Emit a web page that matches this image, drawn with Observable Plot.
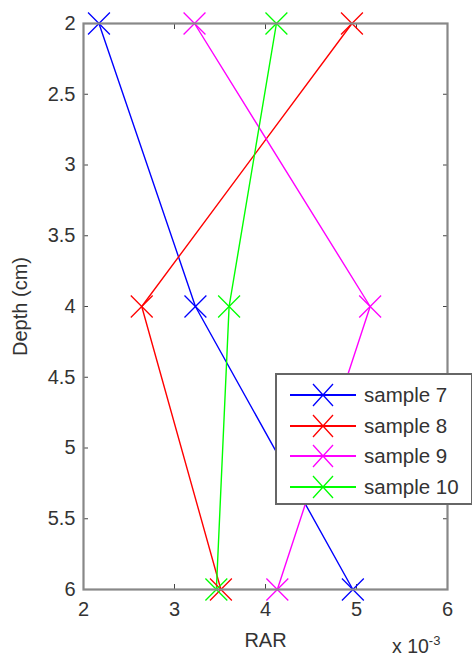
<!DOCTYPE html>
<html><head><meta charset="utf-8">
<script src="https://cdn.jsdelivr.net/npm/d3@7"></script>
<script src="https://cdn.jsdelivr.net/npm/@observablehq/plot@0.6"></script>
<style>
body{margin:0;background:#fff;font-family:"Liberation Sans",Arial,sans-serif;}
#wrap{position:relative;width:472px;height:664px;overflow:hidden;}
#legend{position:absolute;left:275px;top:373px;width:194px;height:128px;border:2px solid #666;background:#fff;}
.row{position:absolute;left:0;height:24px;}
.row svg{position:absolute;left:13px;top:0;}
.row span{position:absolute;left:87px;top:0px;line-height:24px;font-size:20.5px;color:#333;white-space:nowrap;}
#expo{position:absolute;left:392px;top:636px;font-size:19.5px;color:#333;line-height:20px;}
#expo sup{font-size:13px;position:relative;top:-5px;vertical-align:top;}
</style></head><body><div id="wrap"></div>
<script>
const depths = [2, 4, 6];
const sample7 = [2.17e-3, 3.23e-3, 4.96e-3];
const sample8 = [4.95e-3, 2.64e-3, 3.51e-3];
const sample9 = [3.22e-3, 5.15e-3, 4.13e-3];
const sample10 = [4.12e-3, 3.60e-3, 3.46e-3];
const seriesNames = ["sample 7", "sample 8", "sample 9", "sample 10"];
const seriesColors = ["#0000ff", "#ff0000", "#ff00ff", "#00ff00"];
const xTicks = [0.002, 0.003, 0.004, 0.005, 0.006];
const yTicks = [2, 2.5, 3, 3.5, 4, 4.5, 5, 5.5, 6];

const allSeries = [sample7, sample8, sample9, sample10];
const data = [];
allSeries.forEach((vals, i) => vals.forEach((v, j) => data.push({series: seriesNames[i], rar: v, depth: depths[j]})));

const fmtX = d => String(Math.round(d * 1000));
const fmtY = d => String(d);

const plot = Plot.plot({
  width: 472, height: 664,
  marginLeft: 83, marginRight: 25, marginTop: 23, marginBottom: 75,
  style: {fontFamily: "'Liberation Sans', Arial, sans-serif", fontSize: "20px", color: "#333", background: "white"},
  x: {domain: [0.002, 0.006], labelArrow: "none"},
  y: {domain: [2, 6], reverse: true, labelArrow: "none"},
  color: {domain: seriesNames, range: seriesColors},
  marks: [
    Plot.axisX(xTicks, {anchor: "bottom", tickSize: -5, tickPadding: 17, tickFormat: fmtX, label: "RAR", labelArrow: "none", labelAnchor: "center", labelOffset: 57, stroke: "#444"}),
    Plot.axisX(xTicks, {anchor: "top", tickSize: -5, tickFormat: () => "", label: null, stroke: "#444"}),
    Plot.axisY(yTicks, {anchor: "left", tickSize: -5, tickPadding: 13, tickFormat: fmtY, label: "Depth (cm)", labelArrow: "none", labelAnchor: "center", labelOffset: 71, stroke: "#444"}),
    Plot.axisY(yTicks, {anchor: "right", tickSize: -5, tickFormat: () => "", label: null, stroke: "#444"}),
    Plot.line(data, {x: "rar", y: "depth", z: "series", stroke: "series", strokeWidth: 1.4}),
    Plot.dot(data, {x: "rar", y: "depth", stroke: "series", symbol: "times", r: 10, strokeWidth: 1.3}),
    Plot.frame({stroke: "#888", strokeWidth: 2.2})
  ]
});
const wrap = document.getElementById("wrap");
wrap.appendChild(plot);

const legend = document.createElement("div");
legend.id = "legend";
seriesNames.forEach((name, i) => {
  const row = document.createElement("div");
  row.className = "row";
  row.style.top = (8 + i * 30.7) + "px";
  row.innerHTML = `<svg width="68" height="24"><line x1="0" y1="12" x2="66" y2="12" stroke="${seriesColors[i]}" stroke-width="2"/>` +
    `<path d="M23,1L43,23M23,23L43,1" stroke="${seriesColors[i]}" stroke-width="1.3"/></svg><span>${name}</span>`;
  legend.appendChild(row);
});
wrap.appendChild(legend);

const expo = document.createElement("div");
expo.id = "expo";
expo.innerHTML = "x 10<sup>-3</sup>";
wrap.appendChild(expo);
</script>
</body></html>
